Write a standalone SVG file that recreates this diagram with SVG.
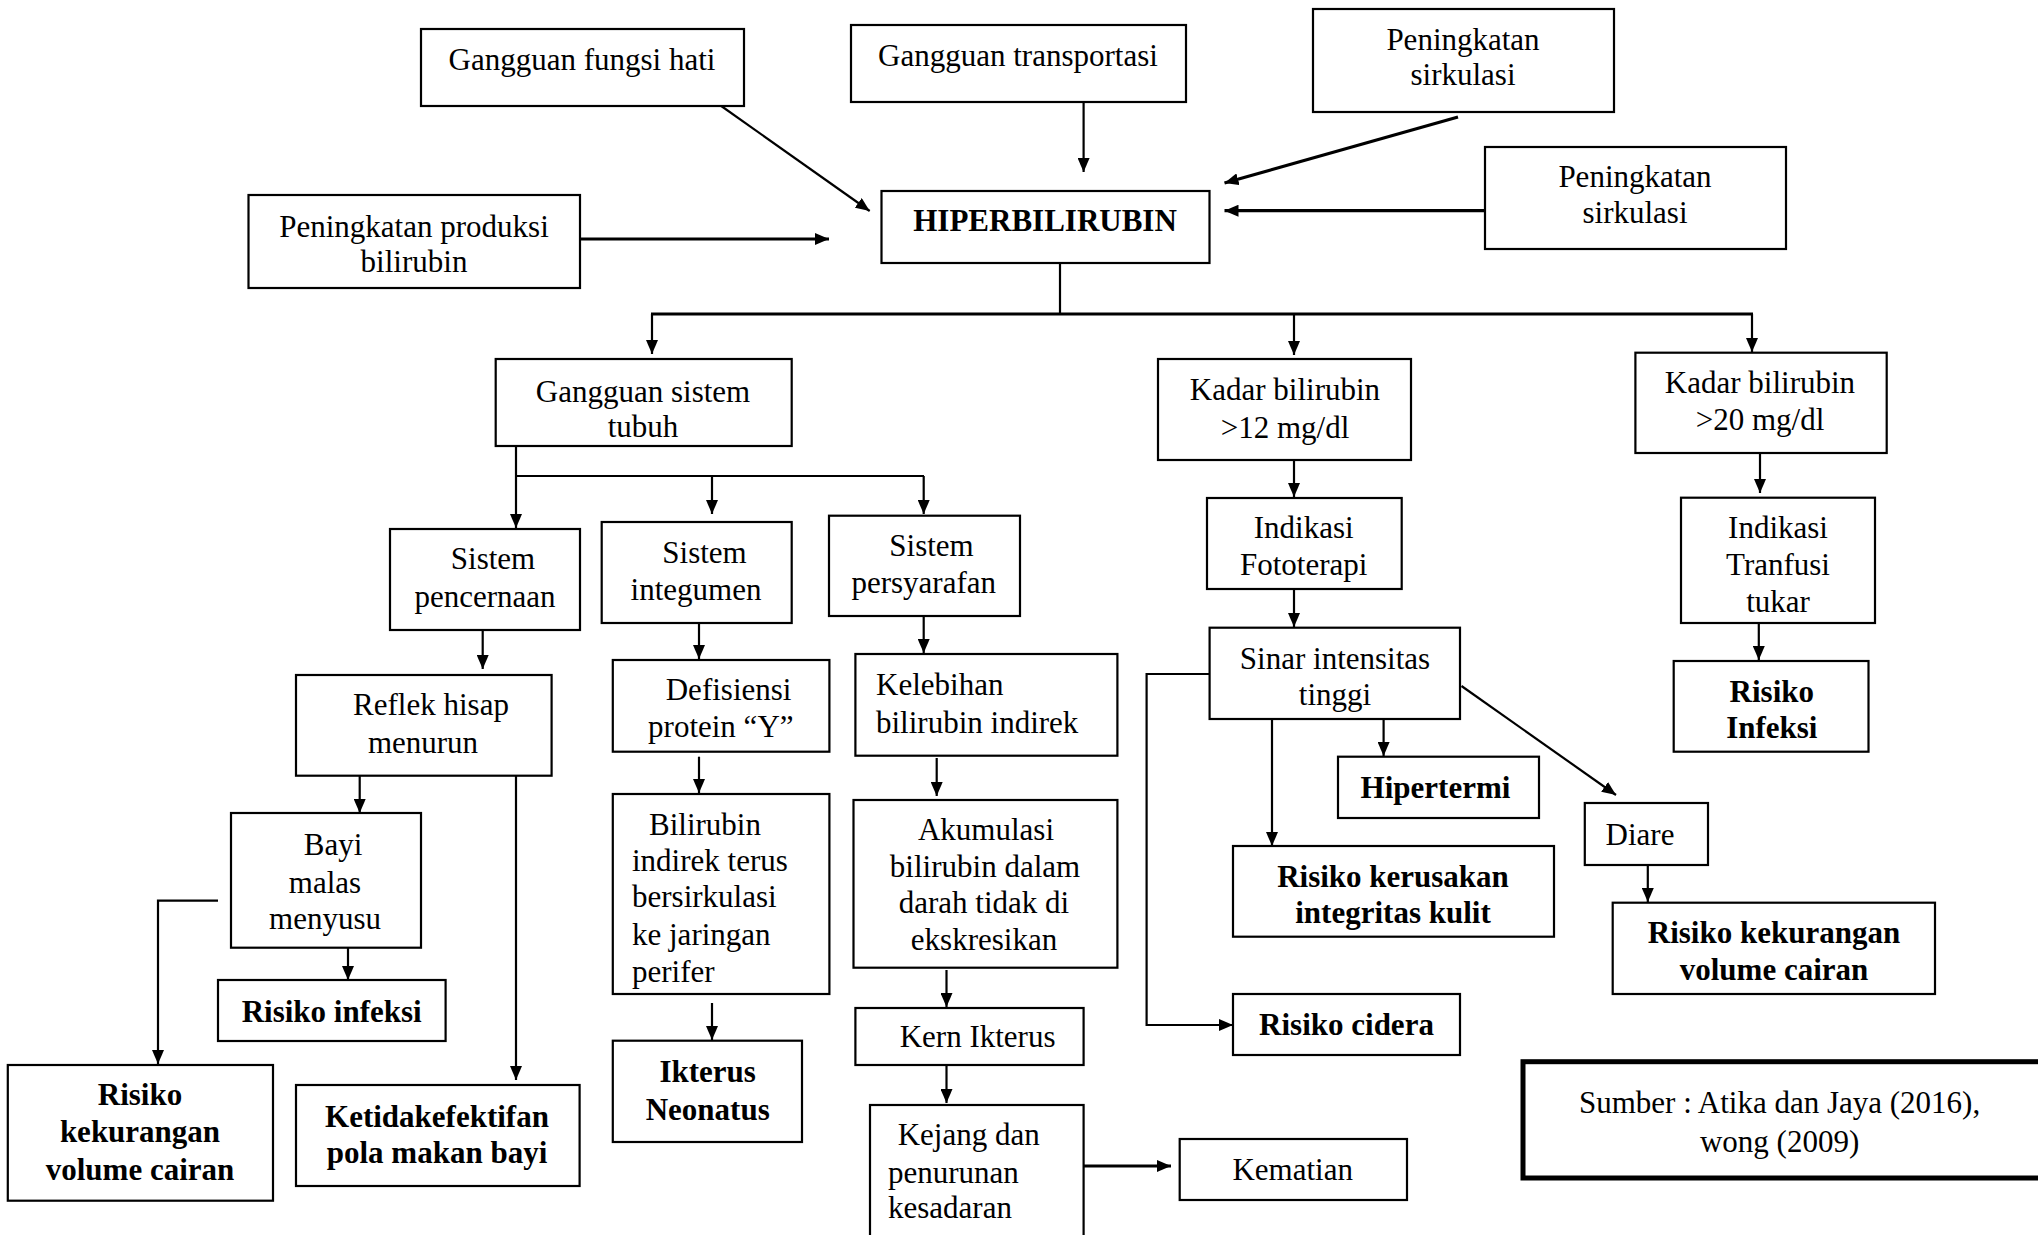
<svg xmlns="http://www.w3.org/2000/svg" width="2038" height="1235" viewBox="0 0 2038 1235">
<style>
.box{fill:#fff;stroke:#000;stroke-width:2.2}
.t{font-family:"Liberation Serif","Times New Roman",serif;font-size:31px;text-anchor:middle;fill:#000}
.b{font-weight:bold}
.l{text-anchor:start}
.c{stroke:#000;stroke-width:2.2;fill:none}
.k{stroke-width:3.2}
</style>
<defs>
<marker id="ah" viewBox="0 0 14 12" refX="14" refY="6" markerWidth="14" markerHeight="12" markerUnits="userSpaceOnUse" orient="auto">
<path d="M0,0 L14,6 L0,12 z" fill="#000"/>
</marker>
</defs>
<rect width="2038" height="1235" fill="#fff"/>
<g id="connectors">
<line class="c" x1="715.6" y1="102" x2="869.7" y2="211" marker-end="url(#ah)"/>
<line class="c" x1="1083.6" y1="101" x2="1083.6" y2="172" marker-end="url(#ah)"/>
<line class="c k" x1="1458" y1="117" x2="1224.5" y2="183" marker-end="url(#ah)"/>
<line class="c k" x1="1485" y1="210.7" x2="1224.5" y2="210.7" marker-end="url(#ah)"/>
<line class="c k" x1="580" y1="239" x2="829" y2="239" marker-end="url(#ah)"/>
<line class="c" x1="1060" y1="263" x2="1060" y2="314"/>
<line class="c k" x1="651" y1="314" x2="1753" y2="314"/>
<line class="c" x1="652" y1="314" x2="652" y2="354" marker-end="url(#ah)"/>
<line class="c" x1="1294" y1="314" x2="1294" y2="355" marker-end="url(#ah)"/>
<line class="c" x1="1752" y1="314" x2="1752" y2="352" marker-end="url(#ah)"/>
<line class="c" x1="516" y1="446" x2="516" y2="528" marker-end="url(#ah)"/>
<line class="c" x1="516" y1="476" x2="924" y2="476"/>
<line class="c" x1="712" y1="476" x2="712" y2="514" marker-end="url(#ah)"/>
<line class="c" x1="923.7" y1="476" x2="923.7" y2="514" marker-end="url(#ah)"/>
<line class="c" x1="482.7" y1="630" x2="482.7" y2="669" marker-end="url(#ah)"/>
<line class="c" x1="699" y1="623" x2="699" y2="659" marker-end="url(#ah)"/>
<line class="c" x1="923.7" y1="616" x2="923.7" y2="653" marker-end="url(#ah)"/>
<line class="c" x1="359.7" y1="775" x2="359.7" y2="813" marker-end="url(#ah)"/>
<line class="c" x1="516" y1="775" x2="516" y2="1080" marker-end="url(#ah)"/>
<line class="c" x1="348" y1="947.7" x2="348" y2="980" marker-end="url(#ah)"/>
<polyline class="c" points="218,900.7 158,900.7 158,1064" marker-end="url(#ah)"/>
<line class="c" x1="699" y1="756.7" x2="699" y2="793" marker-end="url(#ah)"/>
<line class="c" x1="712" y1="1003" x2="712" y2="1040" marker-end="url(#ah)"/>
<line class="c" x1="936.7" y1="758" x2="936.7" y2="796" marker-end="url(#ah)"/>
<line class="c" x1="946.5" y1="970" x2="946.5" y2="1007" marker-end="url(#ah)"/>
<line class="c" x1="946.5" y1="1065" x2="946.5" y2="1103" marker-end="url(#ah)"/>
<line class="c k" x1="1083.6" y1="1166" x2="1171" y2="1166" marker-end="url(#ah)"/>
<line class="c" x1="1294" y1="460" x2="1294" y2="497" marker-end="url(#ah)"/>
<line class="c" x1="1294" y1="589" x2="1294" y2="627" marker-end="url(#ah)"/>
<polyline class="c" points="1209.6,674 1146.6,674 1146.6,1025 1233,1025" marker-end="url(#ah)"/>
<line class="c" x1="1272" y1="719" x2="1272" y2="846" marker-end="url(#ah)"/>
<line class="c" x1="1383.6" y1="719" x2="1383.6" y2="756" marker-end="url(#ah)"/>
<line class="c" x1="1461.5" y1="686" x2="1616" y2="795" marker-end="url(#ah)"/>
<line class="c" x1="1647.8" y1="865" x2="1647.8" y2="902" marker-end="url(#ah)"/>
<line class="c" x1="1760" y1="453" x2="1760" y2="493" marker-end="url(#ah)"/>
<line class="c" x1="1758.8" y1="623" x2="1758.8" y2="660" marker-end="url(#ah)"/>
</g>
<g id="n_fungsi"><rect class="box" x="421" y="29" width="323" height="77"/><text class="t" x="582" y="70">Gangguan fungsi hati</text></g>
<g id="n_transport"><rect class="box" x="851" y="25" width="335" height="77"/><text class="t" x="1018" y="66">Gangguan transportasi</text></g>
<g id="n_sirk1"><rect class="box" x="1313" y="9" width="301" height="103"/><text class="t" x="1463" y="50">Peningkatan</text><text class="t" x="1463" y="85">sirkulasi</text></g>
<g id="n_sirk2"><rect class="box" x="1485" y="147" width="301" height="102"/><text class="t" x="1635" y="187">Peningkatan</text><text class="t" x="1635" y="223">sirkulasi</text></g>
<g id="n_produksi"><rect class="box" x="248.5" y="195" width="331.5" height="93"/><text class="t" x="414" y="237">Peningkatan produksi</text><text class="t" x="414" y="272">bilirubin</text></g>
<g id="n_hiper"><rect class="box" x="881.5" y="191" width="328" height="72"/><text class="t b" x="1045" y="231">HIPERBILIRUBIN</text></g>
<g id="n_gst"><rect class="box" x="495.7" y="359" width="296" height="87"/><text class="t" x="643" y="402">Gangguan sistem</text><text class="t" x="643" y="437">tubuh</text></g>
<g id="n_pencernaan"><rect class="box" x="390" y="529" width="190" height="101"/><text class="t" x="493" y="569">Sistem</text><text class="t" x="485" y="607">pencernaan</text></g>
<g id="n_integumen"><rect class="box" x="601.7" y="522" width="190" height="101"/><text class="t" x="704.5" y="563">Sistem</text><text class="t" x="696" y="600">integumen</text></g>
<g id="n_persyarafan"><rect class="box" x="829" y="515.7" width="191" height="100.3"/><text class="t" x="931.5" y="556">Sistem</text><text class="t" x="923.7" y="593">persyarafan</text></g>
<g id="n_reflek"><rect class="box" x="296" y="675" width="255.6" height="100.7"/><text class="t" x="431" y="715">Reflek hisap</text><text class="t" x="423" y="753">menurun</text></g>
<g id="n_defisiensi"><rect class="box" x="612.8" y="660" width="216.6" height="91.7"/><text class="t" x="728.6" y="700">Defisiensi</text><text class="t" x="720.8" y="737">protein “Y”</text></g>
<g id="n_kelebihan"><rect class="box" x="855.4" y="654" width="262" height="101.7"/><text class="t l" x="876" y="695">Kelebihan</text><text class="t l" x="876" y="733">bilirubin indirek</text></g>
<g id="n_bayi"><rect class="box" x="231" y="813" width="190" height="134.7"/><text class="t" x="333" y="855">Bayi</text><text class="t" x="325" y="893">malas</text><text class="t" x="325" y="929">menyusu</text></g>
<g id="n_rinf"><rect class="box" x="218" y="980" width="227.6" height="61"/><text class="t b" x="331.7" y="1022">Risiko infeksi</text></g>
<g id="n_rkvc1"><rect class="box" x="7.8" y="1065" width="265.2" height="135.7"/><text class="t b" x="140" y="1105">Risiko</text><text class="t b" x="140" y="1142">kekurangan</text><text class="t b" x="140" y="1180">volume cairan</text></g>
<g id="n_ketidak"><rect class="box" x="296" y="1085" width="283.6" height="101"/><text class="t b" x="437" y="1127">Ketidakefektifan</text><text class="t b" x="437" y="1163">pola makan bayi</text></g>
<g id="n_bilirubin"><rect class="box" x="612.8" y="794" width="216.6" height="200"/><text class="t l" x="649" y="835">Bilirubin</text><text class="t l" x="632" y="871">indirek terus</text><text class="t l" x="632" y="907">bersirkulasi</text><text class="t l" x="632" y="945">ke jaringan</text><text class="t l" x="632" y="982">perifer</text></g>
<g id="n_ikterus"><rect class="box" x="612.8" y="1040.7" width="189.2" height="101.3"/><text class="t b" x="707.7" y="1082">Ikterus</text><text class="t b" x="707.7" y="1120">Neonatus</text></g>
<g id="n_akumulasi"><rect class="box" x="853.5" y="800" width="263.9" height="167.7"/><text class="t" x="986" y="840">Akumulasi</text><text class="t" x="985" y="877">bilirubin dalam</text><text class="t" x="984" y="913">darah tidak di</text><text class="t" x="984" y="950">ekskresikan</text></g>
<g id="n_kern"><rect class="box" x="855.4" y="1008" width="228.2" height="57"/><text class="t" x="977.6" y="1047">Kern Ikterus</text></g>
<g id="n_kejang"><rect class="box" x="870" y="1105" width="213.6" height="150"/><text class="t l" x="897.7" y="1145">Kejang dan</text><text class="t l" x="888" y="1183">penurunan</text><text class="t l" x="888" y="1218">kesadaran</text></g>
<g id="n_kematian"><rect class="box" x="1179.7" y="1139" width="227.3" height="61"/><text class="t" x="1292.7" y="1180">Kematian</text></g>
<g id="n_kadar12"><rect class="box" x="1158" y="359" width="253" height="101"/><text class="t" x="1285" y="400">Kadar bilirubin</text><text class="t" x="1285" y="438">&gt;12 mg/dl</text></g>
<g id="n_foto"><rect class="box" x="1207" y="498" width="194.7" height="91"/><text class="t" x="1303.7" y="538">Indikasi</text><text class="t" x="1303.7" y="575">Fototerapi</text></g>
<g id="n_sinar"><rect class="box" x="1209.6" y="627.7" width="250.4" height="91.3"/><text class="t" x="1335" y="669">Sinar intensitas</text><text class="t" x="1335" y="705">tinggi</text></g>
<g id="n_hipertermi"><rect class="box" x="1338" y="756.7" width="201" height="61.3"/><text class="t b" x="1435.5" y="798">Hipertermi</text></g>
<g id="n_kerusakan"><rect class="box" x="1233" y="846" width="321" height="90.7"/><text class="t b" x="1393" y="887">Risiko kerusakan</text><text class="t b" x="1393" y="923">integritas kulit</text></g>
<g id="n_cidera"><rect class="box" x="1233" y="994" width="227" height="61"/><text class="t b" x="1346.5" y="1035">Risiko cidera</text></g>
<g id="n_diare"><rect class="box" x="1584.8" y="803" width="123.2" height="62"/><text class="t" x="1640" y="845">Diare</text></g>
<g id="n_rkvc2"><rect class="box" x="1612.7" y="902.7" width="322.3" height="91.3"/><text class="t b" x="1774" y="943">Risiko kekurangan</text><text class="t b" x="1774" y="980">volume cairan</text></g>
<g id="n_kadar20"><rect class="box" x="1635.4" y="352.7" width="251.3" height="100.3"/><text class="t" x="1760" y="393">Kadar bilirubin</text><text class="t" x="1760" y="430">&gt;20 mg/dl</text></g>
<g id="n_tranfusi"><rect class="box" x="1681" y="497.7" width="194" height="125.3"/><text class="t" x="1778" y="538">Indikasi</text><text class="t" x="1778" y="575">Tranfusi</text><text class="t" x="1778" y="612">tukar</text></g>
<g id="n_rinf2"><rect class="box" x="1673.7" y="661" width="194.8" height="90.7"/><text class="t b" x="1771.8" y="702">Risiko</text><text class="t b" x="1771.8" y="738">Infeksi</text></g>
<g id="n_sumber"><rect x="1523" y="1061.7" width="520" height="116.3" fill="#fff" stroke="#000" stroke-width="5"/><text class="t" x="1779.6" y="1113">Sumber : Atika dan Jaya (2016),</text><text class="t" x="1779.6" y="1152">wong (2009)</text></g>
</svg>
